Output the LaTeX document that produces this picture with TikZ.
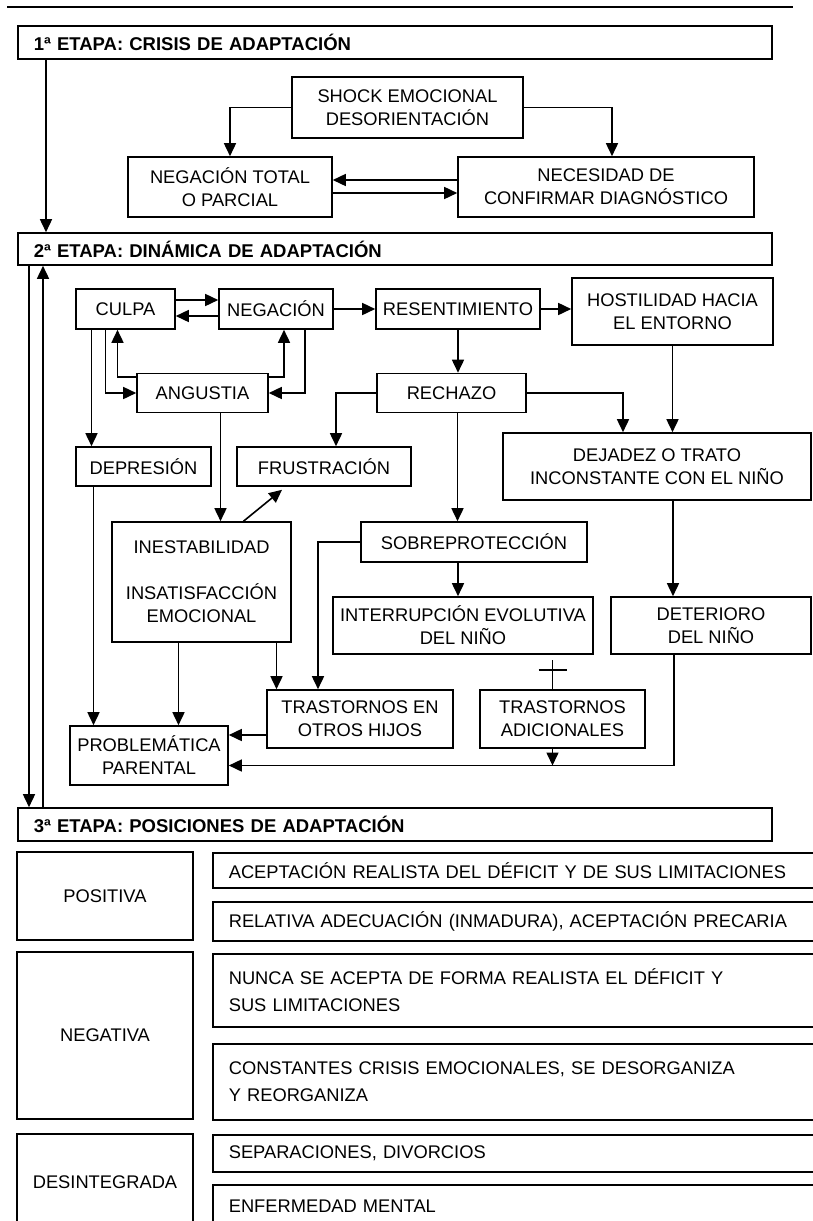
\documentclass[tikz,border=0pt]{standalone}
\usepackage{fontspec}
\setmainfont{Liberation Sans}
\usetikzlibrary{arrows.meta}

\begin{document}
\begin{tikzpicture}[x=1pt,y=-1pt,
    caja/.style={draw, line width=1.6pt, inner sep=0pt, align=center, font=\fontsize{18.3}{23}\selectfont},
    etapa/.style={draw, line width=1.6pt, anchor=west, minimum height=33pt, text width=722pt, inner xsep=16pt, inner ysep=0pt, align=left, font=\bfseries\fontsize{18.5}{22}\selectfont},
    fila/.style={draw, line width=1.6pt, anchor=north west, text width=586pt, inner xsep=16pt, inner ysep=0pt, align=left, font=\fontsize{18.3}{27}\selectfont},
    flecha/.style={line width=1.6pt, -{Triangle[width=12pt,length=13pt]}}]
    \useasboundingbox (0,0) rectangle (813,1221);
    \clip (0,0) rectangle (813,1221);
    \draw[line width=1.8pt] (7,7) -- (793,7);

% 第一阶段
    \node[etapa] (etapa1) at (17,42.5) {1ª ETAPA: CRISIS DE ADAPTACIÓN};
    \node[caja, minimum width=231pt, minimum height=61pt] (shock) at (407.5,107.5) {SHOCK EMOCIONAL\\DESORIENTACIÓN};
    \node[caja, minimum width=204pt, minimum height=60pt] (negtotal) at (230,187) {NEGACIÓN TOTAL\\O PARCIAL};
    \node[caja, minimum width=296pt, minimum height=60pt] (confirmar) at (606,187) {NECESIDAD DE\\CONFIRMAR DIAGNÓSTICO};
    \draw[flecha] (shock.west) -| (negtotal.north);
    \draw[flecha] (shock.east) -| ([xshift=6pt]confirmar.north);
    \draw[flecha] ([yshift=7pt]confirmar.west) -- ([yshift=7pt]negtotal.east);
    \draw[flecha] ([yshift=-6pt]negtotal.east) -- ([yshift=-6pt]confirmar.west);

% 第二阶段
    \node[etapa, minimum height=32pt] (etapa2) at (17,249) {2ª ETAPA: DINÁMICA DE ADAPTACIÓN};
    \draw[flecha] ([xshift=29pt]etapa1.south west) -- ([xshift=29pt]etapa1.south west |- etapa2.north);

    \node[caja, minimum width=99pt, minimum height=40pt] (culpa) at (125.5,309) {CULPA};
    \node[caja, minimum width=114pt, minimum height=40pt] (negacion) at (276,309) {NEGACIÓN};
    \node[caja, minimum width=164pt, minimum height=40pt] (resent) at (458,309) {RESENTIMIENTO};
    \node[caja, minimum width=201pt, minimum height=67pt] (hostil) at (672.5,311.5) {HOSTILIDAD HACIA\\EL ENTORNO};
    \node[caja, minimum width=131pt, minimum height=39pt] (angustia) at (202.5,393) {ANGUSTIA};
    \node[caja, minimum width=149pt, minimum height=39pt] (rechazo) at (451.5,393) {RECHAZO};
    \node[caja, minimum width=135pt, minimum height=39pt] (depresion) at (143.5,466.5) {DEPRESIÓN};
    \node[caja, minimum width=174pt, minimum height=39pt] (frustracion) at (324,466.5) {FRUSTRACIÓN};
    \node[caja, minimum width=308pt, minimum height=67pt] (dejadez) at (657,466.5) {DEJADEZ O TRATO\\INCONSTANTE CON EL NIÑO};
    \node[caja, minimum width=179pt, minimum height=120pt] (inestab) at (201.5,582) {INESTABILIDAD\\[23pt]INSATISFACCIÓN\\EMOCIONAL};
    \node[caja, minimum width=226pt, minimum height=40pt] (sobre) at (474,542) {SOBREPROTECCIÓN};
    \node[caja, minimum width=260pt, minimum height=57pt] (interrup) at (463,625.5) {INTERRUPCIÓN EVOLUTIVA\\DEL NIÑO};
    \node[caja, minimum width=200pt, minimum height=57pt] (deterioro) at (711,625.5) {DETERIORO\\DEL NIÑO};
    \node[caja, minimum width=186pt, minimum height=58pt] (otros) at (360,719) {TRASTORNOS EN\\OTROS HIJOS};
    \node[caja, minimum width=165pt, minimum height=58pt] (adic) at (562.5,719) {TRASTORNOS\\ADICIONALES};
    \node[caja, minimum width=158pt, minimum height=59pt] (parental) at (149,755.5) {PROBLEMÁTICA\\PARENTAL};

    % culpa, negación, angustia
    \draw[flecha] ([yshift=9pt]culpa.east) -- ([yshift=9pt]negacion.west);
    \draw[flecha] ([yshift=-7pt]negacion.west) -- ([yshift=-7pt]culpa.east);
    \draw[flecha] ([xshift=-20pt]culpa.south) |- (angustia.west);
    \draw[flecha] ([yshift=16pt]angustia.west) -| ([xshift=-8pt]culpa.south);
    \draw[flecha] ([yshift=16pt]angustia.east) -| ([xshift=8pt]negacion.south);
    \draw[flecha] ([xshift=29pt]negacion.south) |- (angustia.east);
    \draw[flecha] ([xshift=-34pt]culpa.south) -- ([xshift=-34pt]culpa.south |- depresion.north);
    \draw[flecha] (negacion) -- (resent);
    \draw[flecha] (resent.east) -- (resent.east -| hostil.west);
    \draw[flecha] ([xshift=18pt]angustia.south) -- ([xshift=18pt]angustia.south |- inestab.north);

    % rechazo
    \draw[flecha] (resent.south) -- (resent.south |- rechazo.north);
    \draw[flecha] (rechazo.west) -| ([xshift=12pt]frustracion.north);
    \draw[flecha] (rechazo.east) -| ([xshift=-34pt]dejadez.north);
    \draw[flecha] (hostil.south) -- (hostil.south |- dejadez.north);
    \draw[flecha] ([xshift=6pt]rechazo.south) -- ([xshift=6pt]rechazo.south |- sobre.north);

    % hacia abajo
    \draw[flecha] ([xshift=42pt]inestab.north) -- ([xshift=-42pt,yshift=-3pt]frustracion.south);
    \draw[flecha] ([xshift=-50pt]depresion.south) -- ([xshift=-50pt]depresion.south |- parental.north);
    \draw[flecha] ([xshift=-23pt]inestab.south) -- ([xshift=-23pt]inestab.south |- parental.north);
    \draw[flecha] ([xshift=75pt]inestab.south) -- ([xshift=75pt]inestab.south |- otros.north);
    \draw[flecha] (sobre.west) -| ([xshift=-42pt]otros.north);
    \draw[flecha] ([xshift=-16pt]sobre.south) -- ([xshift=-16pt]sobre.south |- interrup.north);
    \draw[flecha] ([xshift=16pt]dejadez.south) -- ([xshift=16pt]dejadez.south |- deterioro.north);
    \draw[flecha] ([yshift=-16pt]otros.west) -- ([yshift=-16pt]otros.west -| parental.east);
    \coordinate (base) at ([yshift=-10pt]parental.east);
    \draw[flecha] ([xshift=-37pt]deterioro.south) |- (base);
    \draw[flecha] ([xshift=-10pt]adic.south) -- ([xshift=-10pt]adic.south |- base);
    % signo +
    \draw[line width=1.6pt] ([xshift=-10pt]adic.north) -- ++(0,-29);
    \draw[line width=1.6pt] ([xshift=-24pt,yshift=19pt]adic.north) -- ++(28,0);

% 第三阶段
    \node[etapa] (etapa3) at (17,824.5) {3ª ETAPA: POSICIONES DE ADAPTACIÓN};
    \draw[flecha] ([xshift=12pt]etapa2.south west) -- ([xshift=12pt]etapa2.south west |- etapa3.north);
    \draw[flecha] ([xshift=26pt]etapa3.north west) -- ([xshift=26pt]etapa3.north west |- etapa2.south);

    \node[caja, minimum width=176pt, minimum height=88pt] (positiva) at (105,896) {POSITIVA};
    \node[caja, minimum width=176pt, minimum height=167pt] (negativa) at (105,1035.5) {NEGATIVA};
    \node[caja, minimum width=176pt, minimum height=96pt] (desint) at (105,1182) {DESINTEGRADA};
    \node[fila, minimum height=35pt] (fila1) at (212,852) {ACEPTACIÓN REALISTA DEL DÉFICIT Y DE SUS LIMITACIONES};
    \node[fila, minimum height=39pt] (fila2) at (212,901) {RELATIVA ADECUACIÓN (INMADURA), ACEPTACIÓN PRECARIA};
    \node[fila, minimum height=73pt] (fila3) at (212,953) {NUNCA SE ACEPTA DE FORMA REALISTA EL DÉFICIT Y\\SUS LIMITACIONES};
    \node[fila, minimum height=76pt] (fila4) at (212,1043) {CONSTANTES CRISIS EMOCIONALES, SE DESORGANIZA\\Y REORGANIZA};
    \node[fila, minimum height=37pt] (fila5) at (212,1134) {SEPARACIONES, DIVORCIOS};
    \node[fila, minimum height=42pt] (fila6) at (212,1184) {ENFERMEDAD MENTAL};
\end{tikzpicture}
\end{document}
